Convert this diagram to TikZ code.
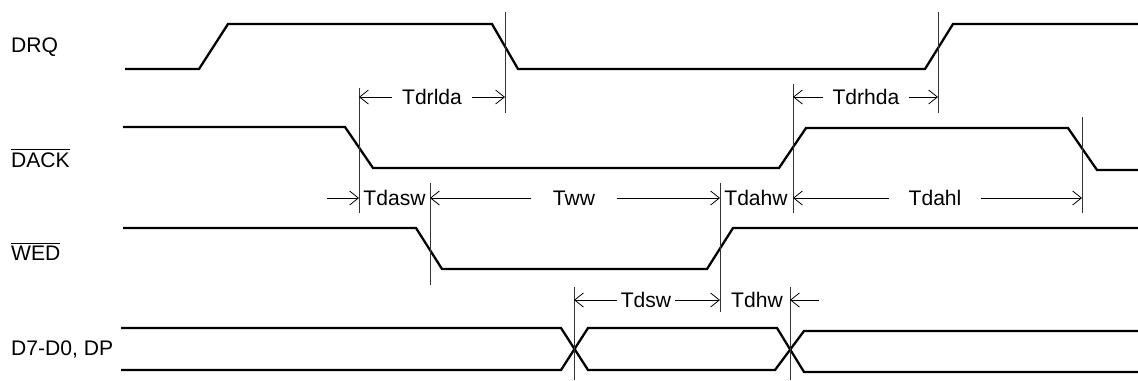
\documentclass[tikz,border=0pt]{standalone}
\usepackage{fontspec}
\setmainfont{Liberation Sans}
\usetikzlibrary{arrows.meta}

\begin{document}
\begin{tikzpicture}[x=0.02cm,y=-0.02cm,font=\fontsize{12}{14}\selectfont,
  sig/.style={line width=1.3pt},
  guide/.style={line width=0.5pt,black!80},
  dim/.style={line width=0.45pt,-{Straight Barb[length=5pt,width=8pt]}}]
\useasboundingbox (0,0) rectangle (1138,380);

% signal names
\node[anchor=west] (drq) at (5,47) {DRQ};
\node[anchor=west] (dack) at (5,158) {$\overline{\hbox{DACK}}$};
\node[anchor=west] (wed) at (5,251) {$\overline{\hbox{WED}}$};
\node[anchor=west] (bus) at (5,349) {D7-D0, DP};

% waveforms
\draw[sig] (125,69)--(199,69)--(228,24)--(492,24)--(518,69)--(925,69)--(953,24)--(1138,24);
\draw[sig] (123,127)--(345,127)--(373,168)--(779,168)--(806,128)--(1068,128)--(1097,170)--(1138,170);
\draw[sig] (123,228)--(416,228)--(442,269)--(707,269)--(733,228)--(1138,228);
\draw[sig] (121,328)--(561,328)--(588,370)--(775,370)--(804,331)--(1138,331);
\draw[sig] (121,370)--(561,370)--(588,328)--(777,328)--(804,372)--(1138,372);

% reference lines
\coordinate (dackfall) at (359,0);
\coordinate (drqfall) at (505,0);
\coordinate (dackrise) at (793,0);
\coordinate (drqrise) at (938,0);
\coordinate (wedfall) at (430,0);
\coordinate (wedrise) at (720,0);
\coordinate (dackend) at (1082,0);
\coordinate (busa) at (574,0);
\coordinate (busb) at (790,0);
\foreach \c/\a/\b in {drqfall/12/113,drqrise/12/113,dackfall/88/213,dackrise/84/213,
  dackend/117/213,wedfall/183/285,wedrise/183/312,busa/287/380,busb/287/380}{
\draw[guide] (\c |- 0,\a)--(\c |- 0,\b);
}

% timings
\node[inner xsep=5.5pt] (tdrlda) at (432,97) {Tdrlda};
\draw[dim] (tdrlda.west)--(tdrlda.west -| dackfall);
\draw[dim] (tdrlda.east)--(tdrlda.east -| drqfall);
\node[inner xsep=5.5pt] (tdrhda) at (866,97) {Tdrhda};
\draw[dim] (tdrhda.west)--(tdrhda.west -| dackrise);
\draw[dim] (tdrhda.east)--(tdrhda.east -| drqrise);

\node[inner xsep=1pt] (tdasw) at (394.5,198) {Tdasw};
\coordinate (tdaswin) at (327,198);
\draw[dim] (tdaswin)--(tdaswin -| dackfall);
\node[inner xsep=12pt] (tww) at (574,198) {Tww};
\draw[dim] (tww.west)--(tww.west -| wedfall);
\draw[dim] (tww.east)--(tww.east -| wedrise);
\node[inner xsep=1pt] (tdahw) at (756,198) {Tdahw};
\node[inner xsep=11pt] (tdahl) at (935,198) {Tdahl};
\draw[dim] (tdahl.west)--(tdahl.west -| dackrise);
\draw[dim] (tdahl.east)--(tdahl.east -| dackend);

\node[inner xsep=2pt] (tdsw) at (646,300) {Tdsw};
\draw[dim] (tdsw.west)--(tdsw.west -| busa);
\draw[dim] (tdsw.east)--(tdsw.east -| wedrise);
\node[inner xsep=1pt] (tdhw) at (757,300) {Tdhw};
\coordinate (tdhwin) at (819,300);
\draw[dim] (tdhwin)--(tdhwin -| busb);
\end{tikzpicture}
\end{document}
